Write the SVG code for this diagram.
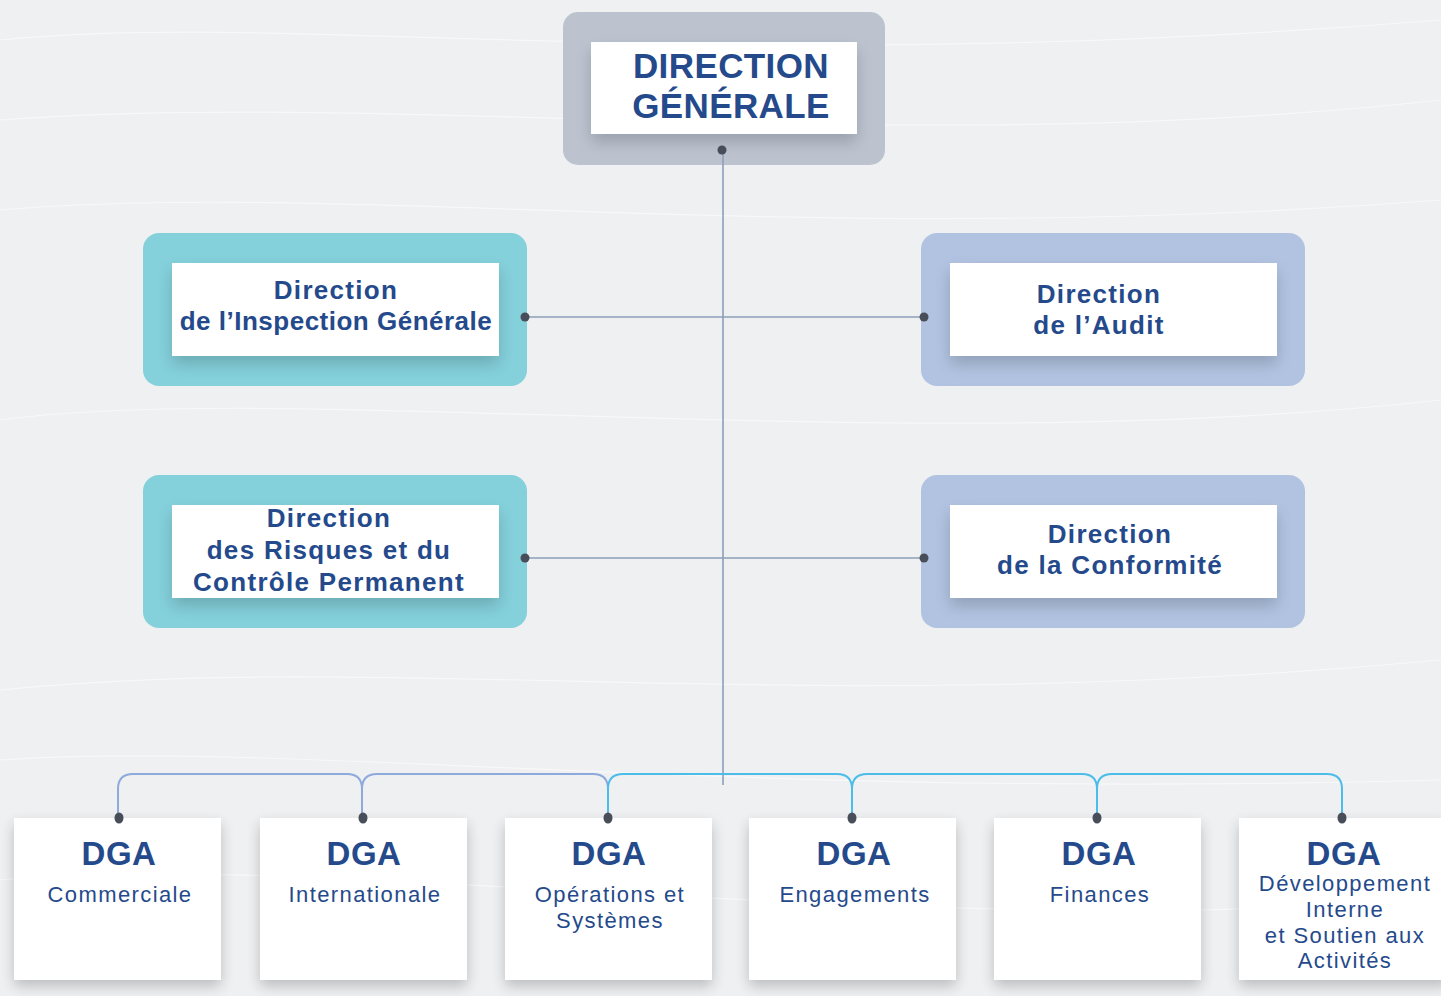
<svg xmlns="http://www.w3.org/2000/svg" width="1441" height="996" viewBox="0 0 1441 996">
<defs>
<style>
.t{font-family:"Liberation Sans",Arial,sans-serif;fill:#254a8c;text-anchor:middle}
.h1{font-size:35px;font-weight:700;letter-spacing:0.4px}
.h2{font-size:26px;font-weight:700;letter-spacing:1.3px}
.h2n{letter-spacing:0.5px}
.dg{font-size:33px;font-weight:700;letter-spacing:0.5px}
.sub{font-size:22px;font-weight:400;letter-spacing:1.4px}
.inner{fill:#ffffff;filter:url(#sh)}
.dga{fill:#ffffff;filter:url(#sh2)}
.ln{fill:none;stroke:#8c9fb9;stroke-width:1.6}
.bus1{fill:none;stroke:#8eaadc;stroke-width:2}
.bus2{fill:none;stroke:#4cbde9;stroke-width:2}
.dot{fill:#474e59}
.wave{fill:none;stroke:#ffffff;stroke-width:1.2;opacity:0.55}
</style>
<filter id="sh" x="-20%" y="-30%" width="140%" height="170%">
<feGaussianBlur in="SourceAlpha" stdDeviation="8"/>
<feOffset dx="0" dy="8" result="b"/>
<feComponentTransfer><feFuncA type="linear" slope="0.18"/></feComponentTransfer>
<feMerge><feMergeNode/><feMergeNode in="SourceGraphic"/></feMerge>
</filter>
<filter id="sh2" x="-20%" y="-20%" width="140%" height="140%">
<feGaussianBlur in="SourceAlpha" stdDeviation="7"/>
<feOffset dx="0" dy="6" result="b"/>
<feComponentTransfer><feFuncA type="linear" slope="0.22"/></feComponentTransfer>
<feMerge><feMergeNode/><feMergeNode in="SourceGraphic"/></feMerge>
</filter>
</defs>
<rect x="0" y="0" width="1441" height="996" fill="#eff0f2"/>
<g id="background-waves">
<path class="wave" d="M0,40 C300,10 700,80 1441,20"/>
<path class="wave" d="M0,120 C400,90 900,160 1441,100"/>
<path class="wave" d="M0,210 C350,180 800,250 1441,200"/>
<path class="wave" d="M0,420 C300,380 900,460 1441,400"/>
<path class="wave" d="M0,690 C400,650 800,720 1441,660"/>
<path class="wave" d="M0,760 C300,740 700,800 1441,780"/>
<path class="wave" d="M0,880 C300,850 900,940 1441,900"/>
</g>

<g id="direction-generale">
<rect x="563" y="12" width="322" height="153" rx="15" fill="#bcc3cf"/>
<rect class="inner" x="591" y="42" width="266" height="92"/>
<text class="t h1" x="731" y="78">DIRECTION</text>
<text class="t h1" x="731" y="118">GÉNÉRALE</text>
</g>

<g id="inspection-generale">
<rect x="143" y="233" width="384" height="153" rx="16" fill="#84d0db"/>
<rect class="inner" x="172" y="263" width="327" height="93"/>
<text class="t h2" x="336" y="299">Direction</text>
<text class="t h2 h2n" x="336" y="330">de l’Inspection Générale</text>
</g>

<g id="audit">
<rect x="921" y="233" width="384" height="153" rx="16" fill="#b1c3e1"/>
<rect class="inner" x="950" y="263" width="327" height="93"/>
<text class="t h2" x="1099" y="303">Direction</text>
<text class="t h2" x="1099" y="334">de l’Audit</text>
</g>

<g id="risques">
<rect x="143" y="475" width="384" height="153" rx="16" fill="#84d0db"/>
<rect class="inner" x="172" y="505" width="327" height="93"/>
<text class="t h2" x="329" y="527">Direction</text>
<text class="t h2" x="329" y="559">des Risques et du</text>
<text class="t h2" x="329" y="591">Contrôle Permanent</text>
</g>

<g id="conformite">
<rect x="921" y="475" width="384" height="153" rx="16" fill="#b1c3e1"/>
<rect class="inner" x="950" y="505" width="327" height="93"/>
<text class="t h2" x="1110" y="543">Direction</text>
<text class="t h2" x="1110" y="574">de la Conformité</text>
</g>

<g id="dga-commerciale">
<rect class="dga" x="14" y="818" width="207" height="162"/>
<text class="t dg" x="119" y="865">DGA</text>
<text class="t sub" x="120" y="902">Commerciale</text>
</g>
<g id="dga-internationale">
<rect class="dga" x="260" y="818" width="207" height="162"/>
<text class="t dg" x="364" y="865">DGA</text>
<text class="t sub" x="365" y="902">Internationale</text>
</g>
<g id="dga-operations">
<rect class="dga" x="505" y="818" width="207" height="162"/>
<text class="t dg" x="609" y="865">DGA</text>
<text class="t sub" x="610" y="902">Opérations et</text>
<text class="t sub" x="610" y="928">Systèmes</text>
</g>
<g id="dga-engagements">
<rect class="dga" x="749" y="818" width="207" height="162"/>
<text class="t dg" x="854" y="865">DGA</text>
<text class="t sub" x="855" y="902">Engagements</text>
</g>
<g id="dga-finances">
<rect class="dga" x="994" y="818" width="207" height="162"/>
<text class="t dg" x="1099" y="865">DGA</text>
<text class="t sub" x="1100" y="902">Finances</text>
</g>
<g id="dga-developpement">
<rect class="dga" x="1239" y="818" width="210" height="162"/>
<text class="t dg" x="1344" y="865">DGA</text>
<text class="t sub" x="1345" y="891">Développement</text>
<text class="t sub" x="1345" y="917">Interne</text>
<text class="t sub" x="1345" y="943">et Soutien aux</text>
<text class="t sub" x="1345" y="968">Activités</text>
</g>

<g id="connectors">
<line class="ln" x1="723" y1="150" x2="723" y2="785"/>
<line class="ln" x1="525" y1="317" x2="924" y2="317"/>
<line class="ln" x1="525" y1="558" x2="924" y2="558"/>
<path class="bus1" d="M118,818 V789 Q118,774 133,774 H347 Q362,774 362,789 V818"/>
<path class="bus1" d="M362,789 Q362,774 377,774 H593 Q608,774 608,789"/>
<path class="bus2" d="M608,818 V789 Q608,774 623,774 H837 Q852,774 852,789 V818"/>
<path class="bus2" d="M852,789 Q852,774 867,774 H1082 Q1097,774 1097,789 V818"/>
<path class="bus2" d="M1097,789 Q1097,774 1112,774 H1327 Q1342,774 1342,789 V818"/>
<circle class="dot" cx="722" cy="150" r="4.5"/>
<circle class="dot" cx="525" cy="317" r="4.5"/>
<circle class="dot" cx="924" cy="317" r="4.5"/>
<circle class="dot" cx="525" cy="558" r="4.5"/>
<circle class="dot" cx="924" cy="558" r="4.5"/>
<ellipse class="dot" cx="119" cy="818" rx="4.5" ry="5.5"/>
<ellipse class="dot" cx="363" cy="818" rx="4.5" ry="5.5"/>
<ellipse class="dot" cx="608" cy="818" rx="4.5" ry="5.5"/>
<ellipse class="dot" cx="852" cy="818" rx="4.5" ry="5.5"/>
<ellipse class="dot" cx="1097" cy="818" rx="4.5" ry="5.5"/>
<ellipse class="dot" cx="1342" cy="818" rx="4.5" ry="5.5"/>
</g>
</svg>
